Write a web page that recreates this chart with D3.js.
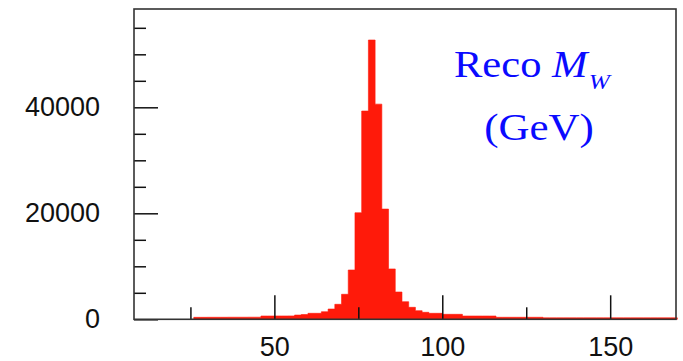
<!DOCTYPE html>
<html>
<head>
<meta charset="utf-8">
<script src="https://cdn.jsdelivr.net/npm/d3@7"></script>
<style>
    body { margin: 0; background: #fff; }
    svg { display: block; }
</style>
</head>
<body>
<svg id="chart"></svg>
<script>
// bin low edges (GeV), 2 GeV wide
const binEdges = [26, 28, 30, 32, 34, 36, 38, 40, 42, 44, 46, 48, 50, 52, 54, 56, 58, 60, 62, 64,
    66, 68, 70, 72, 74, 76, 78, 80, 82, 84, 86, 88, 90, 92, 94, 96, 98, 100, 102, 104,
    106, 108, 110, 112, 114, 116, 118, 120, 122, 124, 126, 128, 130, 132, 134, 136, 138, 140, 142, 144,
    146, 148, 150, 152, 154, 156, 158, 160, 162, 164, 166, 168, 170];
// entries per bin
const counts = [370, 370, 380, 380, 380, 390, 390, 390, 400, 400, 620, 620, 630, 630, 640, 800, 900, 1130, 1130, 1430,
    1940, 2830, 4720, 9300, 20100, 39300, 52700, 40600, 20800, 9500, 5150, 3320, 2260, 1620, 1320, 1130, 1130, 940, 940, 940,
    620, 620, 620, 620, 620, 380, 380, 380, 380, 380, 380, 380, 280, 280, 280, 280, 280, 280, 280, 280,
    280, 280, 280, 280, 280, 280, 280, 280, 280, 280, 280, 280];

const xMajor = [50, 100, 150];
const xMinor = [25, 75, 125];
const yMajor = [0, 20000, 40000];
const yMinor = [5000, 10000, 15000, 25000, 30000, 35000, 45000, 50000, 55000];

const W = 683, H = 361;
const frame = { left: 134, right: 676, top: 9, bottom: 319.3 };

const svg = d3.select('#chart').attr('width', W).attr('height', H);

const x = d3.scaleLinear().domain([8.2, 169.6]).range([frame.left, frame.right]);
const y = d3.scaleLinear().domain([0, 58550]).range([frame.bottom, frame.top]);

// histogram as a stepped area
const pts = binEdges.map((e, i) => ({ e: e, v: i < counts.length ? counts[i] : counts[counts.length - 1] }));
const area = d3.area()
    .curve(d3.curveStepAfter)
    .x(d => x(d.e))
    .y0(y(0))
    .y1(d => y(d.v));

svg.append('path')
    .datum(pts)
    .attr('d', area)
    .attr('fill', '#ff1a0a')
    .attr('stroke', '#ff1a0a')
    .attr('stroke-width', 0.6);

// AXES (ticks point inside the frame)
const tickFont = '"Liberation Sans", Arial, sans-serif';

const gx = svg.append('g').attr('transform', 'translate(0,' + frame.bottom + ')');
gx.call(d3.axisBottom(x).tickValues(xMajor).tickSize(-24).tickPadding(17.5).tickFormat(d3.format('d')));
const gxm = svg.append('g').attr('transform', 'translate(0,' + frame.bottom + ')');
gxm.call(d3.axisBottom(x).tickValues(xMinor).tickSize(-12).tickFormat(''));

const gy = svg.append('g').attr('transform', 'translate(' + frame.left + ',0)');
gy.call(d3.axisLeft(y).tickValues(yMajor).tickSize(-24).tickPadding(34).tickFormat(d3.format('d')));
const gym = svg.append('g').attr('transform', 'translate(' + frame.left + ',0)');
gym.call(d3.axisLeft(y).tickValues(yMinor).tickSize(-12).tickFormat(''));

svg.selectAll('.domain').remove();
svg.selectAll('.tick line').attr('stroke', '#111').attr('stroke-width', 1.5);
svg.selectAll('.tick text')
    .attr('font-family', tickFont)
    .attr('font-size', 27)
    .attr('fill', '#111');

// frame
svg.append('rect')
    .attr('x', frame.left)
    .attr('y', frame.top)
    .attr('width', frame.right - frame.left)
    .attr('height', frame.bottom - frame.top)
    .attr('fill', 'none')
    .attr('stroke', '#333')
    .attr('stroke-width', 1.6);

// LABEL (slightly wide serif, as in the original)
const serif = '"Liberation Serif", "Times New Roman", serif';
const labBlue = '#0a0aff';

const lab = svg.append('g')
    .attr('transform', 'translate(454,77) scale(1.15,1)')
    .append('text')
    .attr('font-family', serif)
    .attr('font-size', 37)
    .attr('fill', labBlue);
lab.append('tspan').text('Reco ');
lab.append('tspan').attr('font-style', 'italic').text('M');
lab.append('tspan').attr('font-style', 'italic').attr('font-size', 22).attr('dy', 12).attr('dx', 1).text('W');

svg.append('g')
    .attr('transform', 'translate(539,140) scale(1.16,1)')
    .append('text')
    .attr('text-anchor', 'middle')
    .attr('font-family', serif)
    .attr('font-size', 37)
    .attr('fill', labBlue)
    .text('(GeV)');
</script>
</body>
</html>
